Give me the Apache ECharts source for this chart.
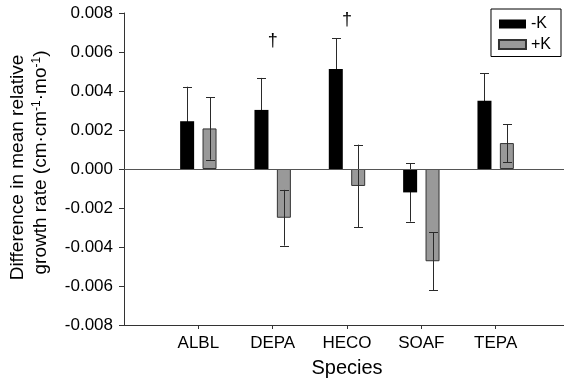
<!DOCTYPE html>
<html>
<head>
<meta charset="utf-8">
<script src="https://cdn.jsdelivr.net/npm/echarts@6/dist/echarts.min.js"></script>
<style>
html,body{margin:0;padding:0;background:#fff;}
#chart{width:564px;height:383px;}
</style>
</head>
<body>
<div id="chart"></div>
<script>
// ---- data ----
var categories = ['ALBL', 'DEPA', 'HECO', 'SOAF', 'TEPA'];
var seriesNames = ['-K', '+K'];
var minusK = [0.00245, 0.00303, 0.00513, -0.00120, 0.00350];
var minusKErr = [0.00177, 0.00164, 0.00157, 0.00150, 0.00142];
var plusK = [0.00208, -0.00250, -0.00087, -0.00473, 0.00133];
var plusKErr = [0.00160, 0.00143, 0.00212, 0.00148, 0.00097];
var daggerCats = ['DEPA', 'HECO'];
var daggerVals = [0.00656, 0.00762];
var yTicks = { min: -0.008, max: 0.008, step: 0.002 };

// ---- build ----
var FONT = 'Arial, "Liberation Sans", sans-serif';
var axisCats = [''].concat(categories, ['']);
function idx(c) { return categories.indexOf(c) + 1; }
function barData(vals) { return vals.map(function (v, i) { return [i + 1, v]; }); }
function errData(vals, errs) { return vals.map(function (v, i) { return [i + 1, v - errs[i], v + errs[i]]; }); }

var BAR_W = 14, HALF_OFF = 11.2, CAP = 9;
function errRender(offset) {
  return function (params, api) {
    var x = api.value(0);
    var lo = api.coord([x, api.value(1)]);
    var hi = api.coord([x, api.value(2)]);
    var cx = Math.round(lo[0] + offset) + 0.5;
    var style = { stroke: '#2a2a2a', lineWidth: 1, fill: null };
    return {
      type: 'group',
      children: [
        { type: 'line', shape: { x1: cx, y1: lo[1], x2: cx, y2: hi[1] }, style: style },
        { type: 'line', shape: { x1: cx - CAP / 2, y1: Math.round(lo[1]) + 0.5, x2: cx + CAP / 2, y2: Math.round(lo[1]) + 0.5 }, style: style },
        { type: 'line', shape: { x1: cx - CAP / 2, y1: Math.round(hi[1]) + 0.5, x2: cx + CAP / 2, y2: Math.round(hi[1]) + 0.5 }, style: style }
      ]
    };
  };
}

var chart = echarts.init(document.getElementById('chart'), null, { renderer: 'canvas' });
chart.setOption({
  animation: false,
  backgroundColor: '#fff',
  textStyle: { fontFamily: FONT },
  grid: { left: 124, right: -6, top: 13, bottom: 58, containLabel: false, outerBoundsMode: 'none' },
  legend: {
    data: seriesNames,
    orient: 'vertical',
    right: 3, top: 9,
    padding: [7, 10, 4, 7],
    itemGap: 4.5,
    itemWidth: 27, itemHeight: 9,
    icon: 'rect',
    borderColor: '#000', borderWidth: 1,
    textStyle: { fontSize: 16, color: '#000', fontFamily: FONT }
  },
  xAxis: {
    type: 'category',
    data: axisCats,
    boundaryGap: false,
    name: 'Species',
    nameLocation: 'middle',
    nameGap: 33,
    nameTextStyle: { fontSize: 20, color: '#000', fontFamily: FONT },
    axisLine: { onZero: false, lineStyle: { color: '#333', width: 1 } },
    axisTick: { length: 4, lineStyle: { color: '#333' }, interval: function (i) { return i > 0 && i < axisCats.length - 1; } },
    axisLabel: { fontSize: 17, color: '#000', margin: 10, interval: 0, fontFamily: FONT },
    splitLine: { show: false }
  },
  yAxis: {
    type: 'value',
    min: yTicks.min, max: yTicks.max, interval: yTicks.step,
    axisLine: { show: true, lineStyle: { color: '#333', width: 1 } },
    axisTick: { show: true, length: 5, lineStyle: { color: '#333' } },
    axisLabel: {
      fontSize: 17, color: '#000', margin: 11, fontFamily: FONT,
      formatter: function (v) { return Math.abs(v) < 1e-9 ? '0.000' : v.toFixed(3); }
    },
    splitLine: { show: false }
  },
  graphic: [
    {
      type: 'text', x: 17.7, y: 167.5, rotation: Math.PI / 2,
      style: { text: 'Difference in mean relative', font: '19px ' + FONT, fill: '#000', textAlign: 'center', textVerticalAlign: 'middle' }
    },
    {
      type: 'text', x: 40.4, y: 162.5, rotation: Math.PI / 2,
      style: {
        text: 'growth rate (cm·cm{s|-1}·mo{s|-1})',
        font: '19px ' + FONT, fill: '#000', textAlign: 'center', textVerticalAlign: 'middle',
        rich: { s: { fontSize: 12, fontFamily: FONT, verticalAlign: 'top', fill: '#000', lineHeight: 19 } }
      }
    }
  ],
  series: [
    {
      name: seriesNames[0], type: 'bar', data: barData(minusK),
      barWidth: BAR_W, barGap: '60%', z: 2,
      itemStyle: { color: '#000', borderColor: '#000', borderWidth: 0 },
      markLine: {
        silent: true, symbol: 'none', label: { show: false },
        lineStyle: { color: '#555', width: 1, type: 'solid' },
        data: [{ yAxis: 0 }]
      }
    },
    {
      name: seriesNames[1], type: 'bar', data: barData(plusK),
      barWidth: BAR_W, barGap: '60%', z: 2,
      itemStyle: { color: '#999', borderColor: '#333', borderWidth: 1 }
    },
    {
      type: 'custom', name: 'errMinus', z: 1, silent: true,
      data: errData(minusK, minusKErr), renderItem: errRender(-HALF_OFF)
    },
    {
      type: 'custom', name: 'errPlus', z: 3, silent: true,
      data: errData(plusK, plusKErr), renderItem: errRender(HALF_OFF)
    },
    {
      type: 'custom', name: 'dagger', z: 3, silent: true,
      data: daggerCats.map(function (c, i) { return [idx(c), daggerVals[i]]; }),
      renderItem: function (params, api) {
        var p = api.coord([api.value(0), api.value(1)]);
        return { type: 'text', x: p[0], y: p[1], style: { text: '†', font: '18px ' + FONT, fill: '#000', textAlign: 'center', textVerticalAlign: 'middle' } };
      }
    }
  ]
});
</script>
</body>
</html>
